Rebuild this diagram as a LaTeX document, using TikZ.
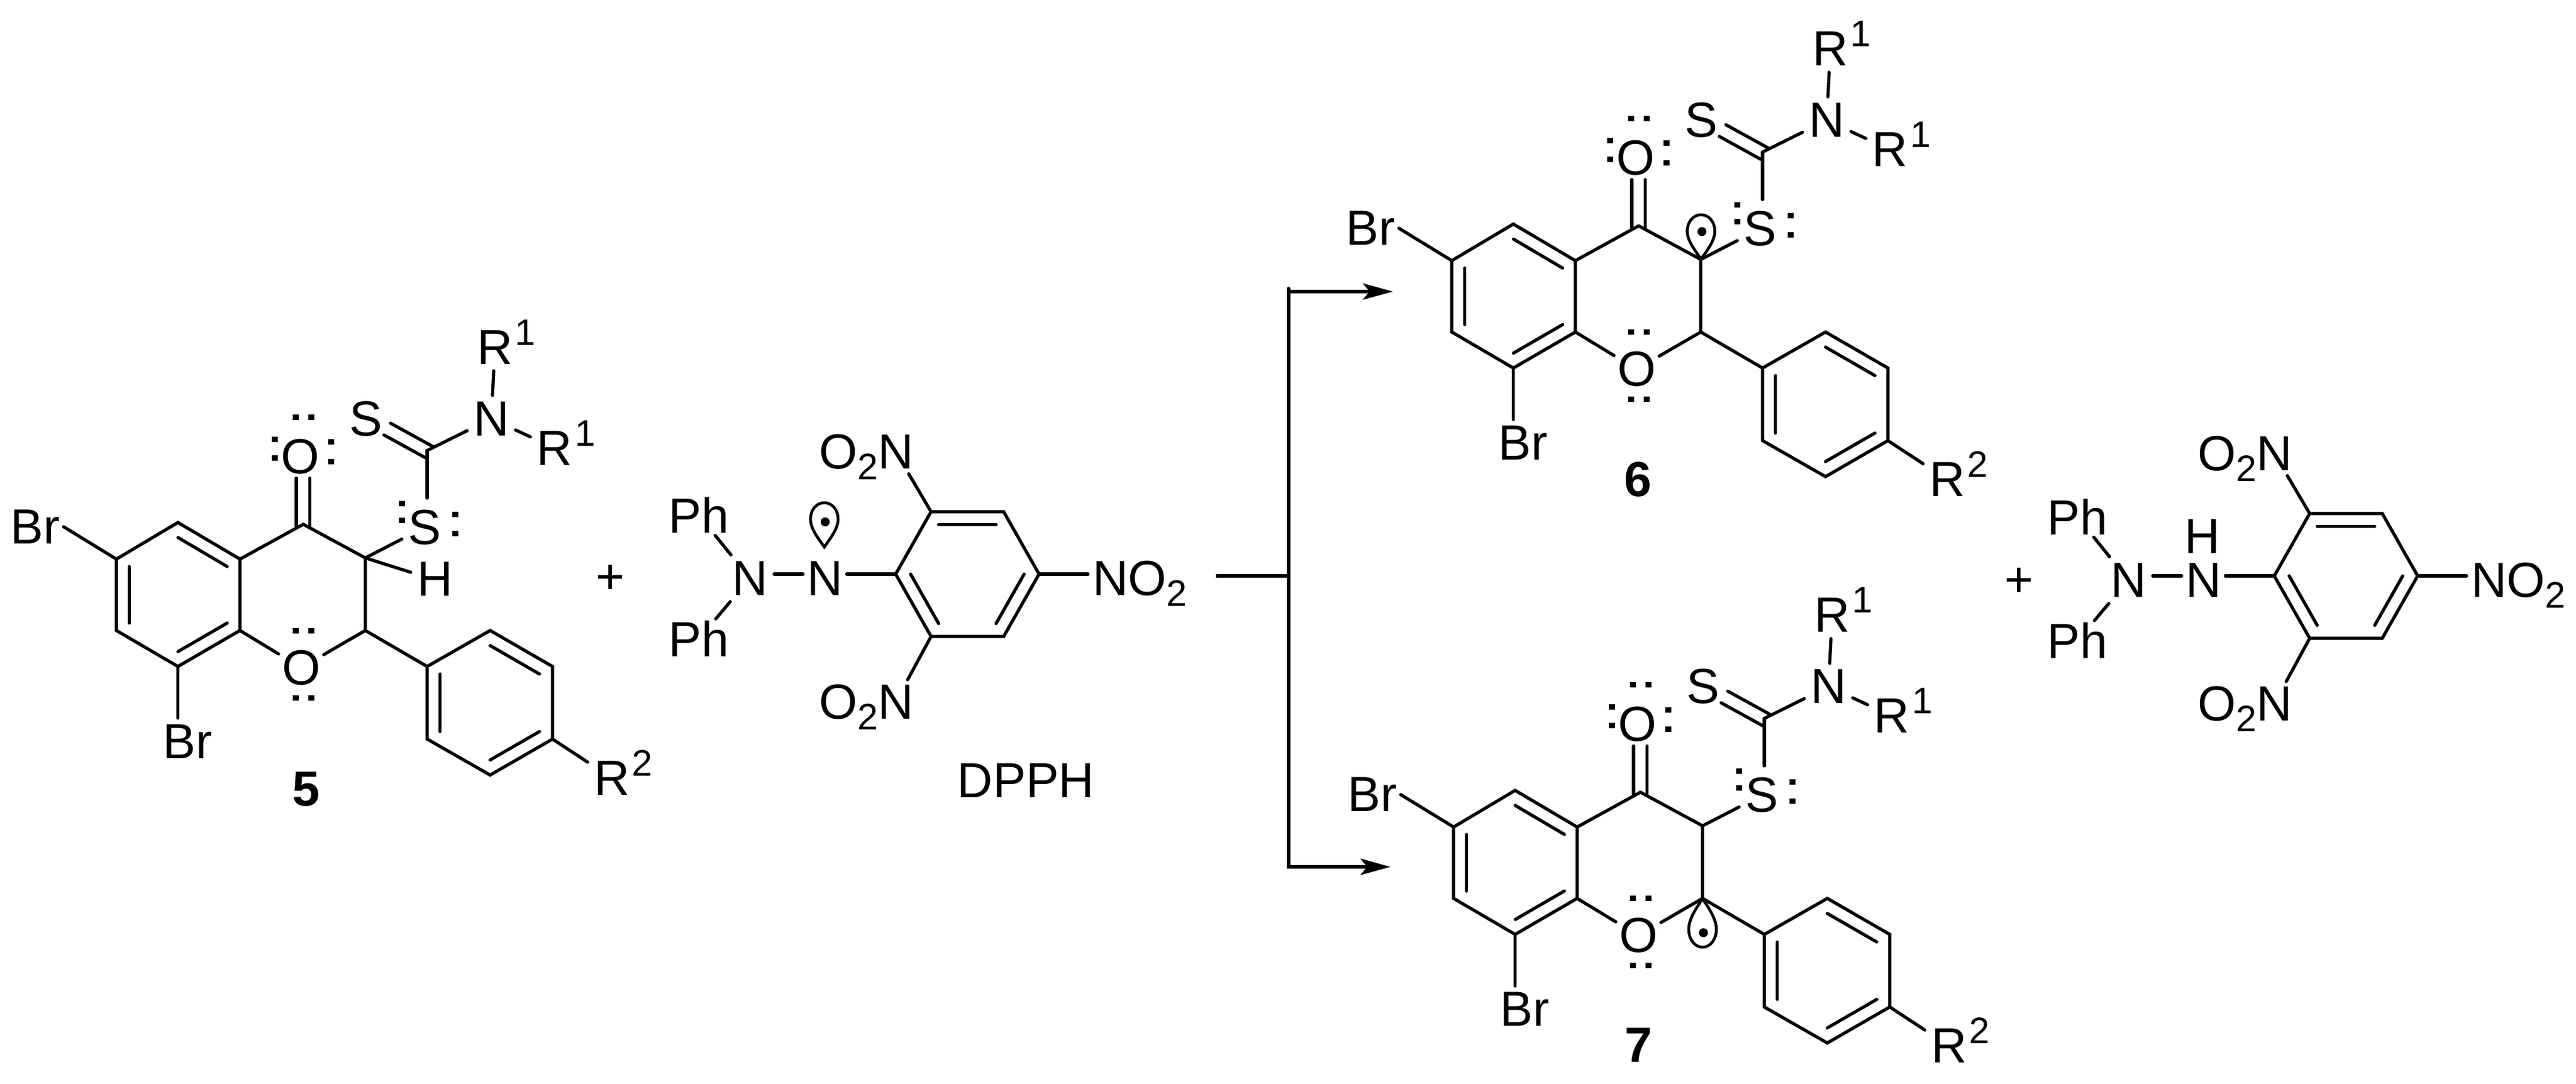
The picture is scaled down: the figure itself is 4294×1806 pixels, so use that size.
\documentclass[tikz,border=0pt]{standalone}
\usepackage{fontspec}
\setmainfont{Liberation Sans}
\usetikzlibrary{arrows.meta,calc}
\newcommand{\supmark}[1]{\rlap{\smash{\hspace*{.04cm}\raisebox{.32cm}{\fontsize{17.5}{18}\selectfont #1}}}}
\newcommand{\submark}[1]{\smash{\raisebox{-.18cm}{\fontsize{17.5}{18}\selectfont #1}}}
\tikzset{
  bond/.style={line width=.053cm,line cap=round,line join=miter},
  atom/.style={inner sep=.10cm,font=\fontsize{23.4}{26}\selectfont},
  ringo/.style={atom,inner sep=.05cm},
  halogen/.style={atom,inner sep=.05cm},
  cpd/.style={inner sep=0pt,font=\fontsize{23.4}{26}\selectfont\bfseries},
  plain/.style={inner sep=0pt,font=\fontsize{23.4}{26}\selectfont},
  lobe/.style={line width=.047cm},
  rxn/.style={line width=.058cm},
  rxnhead/.style={rxn,-{Stealth[length=.5cm,width=.27cm,inset=.11cm]}}
}
% inner line of an aromatic double bond
\newcommand{\innerbond}[3]{\draw[bond] ($(#1)!.208!(#3)$) -- ($(#2)!.208!(#3)$);}
% singly occupied orbital: apex, vertical scale, dot position along the axis
\newcommand{\orbital}[3]{%
\begin{scope}[shift={(#1)},yscale=#2]
  \draw[lobe] (0,0) .. controls (-10,-15) and (-23,-30) .. (-23,-47)
     .. controls (-23,-62) and (-13,-74) .. (0,-74)
     .. controls (13,-74) and (23,-62) .. (23,-47)
     .. controls (23,-30) and (10,-15) .. (0,0) -- cycle;
\end{scope}
\fill ($(#1)+(1.5,{-#3*#2})$) circle (7.5);}
% flavanone skeleton
\newcommand{\flavanone}[3]{%
\begin{scope}[shift={(#2,#3)}]
  \coordinate (#1c4) at (505.5,874);
  \coordinate (#1c4a) at (400,932);
  \coordinate (#1c5) at (296.6,871);
  \coordinate (#1c6) at (194,932);
  \coordinate (#1c7) at (194,1051);
  \coordinate (#1c8) at (296.6,1111);
  \coordinate (#1c8a) at (400,1051);
  \coordinate (#1c2) at (609,1051);
  \coordinate (#1c3) at (609,930);
  \coordinate (#1pa) at (712,1111);
  \coordinate (#1pb) at (817,1051);
  \coordinate (#1pc) at (921,1111);
  \coordinate (#1pd) at (921,1232);
  \coordinate (#1pe) at (817,1292);
  \coordinate (#1pf) at (712,1232);
  \coordinate (#1rc) at (297.5,991.5);
  \coordinate (#1pz) at (816.5,1171.5);
  \coordinate (#1th) at (712,751);
  \coordinate (#1ta) at (721,744);
  \coordinate (#1tb) at (709,763);
  \coordinate (#1sa) at (651,705.5);
  \coordinate (#1sb) at (640,725);
  \coordinate (#1oa) at (494,877);
  \coordinate (#1ob) at (516.5,877);
  \coordinate (#1oc) at (494,797);
  \coordinate (#1od) at (516.5,797);
  \node[halogen] (#1br6) at (59,878) {Br};
  \node[halogen] (#1br8) at (313,1236) {Br};
  \node[ringo] (#1o1) at (502,1113) {O};
  \node[atom] (#1oc4) at (500.5,761) {O};
  \node[atom] (#1s1) at (708,879) {S};
  \node[atom] (#1s2) at (610,698) {S};
  \node[atom] (#1n) at (819,698) {N};
  \node[atom] (#1r1a) at (825,579) {R\supmark{1}};
  \node[atom] (#1r1b) at (924.5,747) {R\supmark{1}};
  \node[atom] (#1r2) at (1020,1297) {R\supmark{2}};
  \draw[bond] (#1c4) -- (#1c4a) -- (#1c5) -- (#1c6) -- (#1c7) -- (#1c8) -- (#1c8a) -- (#1c4a);
  \draw[bond] (#1c4) -- (#1c3) -- (#1c2);
  \draw[bond] (#1c8a) -- (#1o1);
  \draw[bond] (#1c2) -- (#1o1);
  \draw[bond] (#1c2) -- (#1pa) -- (#1pb) -- (#1pc) -- (#1pd) -- (#1pe) -- (#1pf) -- (#1pa);
  \draw[bond] (#1pd) -- (#1r2);
  \innerbond{#1c5}{#1c4a}{#1rc}
  \innerbond{#1c6}{#1c7}{#1rc}
  \innerbond{#1c8}{#1c8a}{#1rc}
  \innerbond{#1pa}{#1pf}{#1pz}
  \innerbond{#1pb}{#1pc}{#1pz}
  \innerbond{#1pd}{#1pe}{#1pz}
  \draw[bond] (#1c6) -- (#1br6.east);
  \draw[bond,shorten >=.05cm] (#1c8) -- (#1c8 |- #1br8.north);
  \draw[bond] (#1oa) -- (#1oc);
  \draw[bond] (#1ob) -- (#1od);
  \draw[bond] (#1c3) -- (#1s1);
  \draw[bond,shorten >=.09cm] (#1th) -- (#1th |- #1s1.north);
  \draw[bond] (#1ta) -- (#1sa);
  \draw[bond] (#1tb) -- (#1sb);
  \draw[bond] (#1th) -- (#1n);
  \draw[bond] (#1n) -- (#1r1a);
  \draw[bond] (#1n) -- (#1r1b);
  \foreach \px/\py in {492.5/695,518.5/695,458/732,458/763,552/736.5,552/769,
      669.5/839,669.5/867,759/857,759/889,
      492.5/1051,518.5/1051,492.5/1163,518.5/1163}{
    \fill[shift={(\px,\py)}] (-5,-4.5) rectangle (5,4.5);
  }
\end{scope}}
% picryl hydrazine skeleton
\newcommand{\hydrazine}[3]{%
\begin{scope}[shift={(#2,#3)}]
  \coordinate (#1a) at (1493,957);
  \coordinate (#1b) at (1552,853);
  \coordinate (#1c) at (1673,853);
  \coordinate (#1d) at (1732,957);
  \coordinate (#1e) at (1673,1061);
  \coordinate (#1f) at (1552,1061);
  \coordinate (#1z) at (1612.5,957);
  \node[atom] (#1na) at (1250,964) {N};
  \node[atom,inner sep=.06cm] (#1nb) at (1375,964) {N};
  \node[atom,inner sep=.03cm] (#1pha) at (1165,859) {Ph};
  \node[atom,inner sep=.03cm] (#1phb) at (1165,1065) {Ph};
  \node[atom,inner sep=.07cm] (#1nta) at (1493,753) {\llap{O\submark{2}}N};
  \node[atom,inner sep=.07cm] (#1ntb) at (1493,1170) {\llap{O\submark{2}}N};
  \node[atom,inner sep=.07cm] (#1ntc) at (1851,964) {N\rlap{O\submark{2}}};
  \draw[bond] (#1a) -- (#1b) -- (#1c) -- (#1d) -- (#1e) -- (#1f) -- (#1a);
  \innerbond{#1b}{#1c}{#1z}
  \innerbond{#1a}{#1f}{#1z}
  \innerbond{#1d}{#1e}{#1z}
  \draw[bond] (#1na.east |- #1a) -- (#1nb.west |- #1a);
  \draw[bond] (#1nb.east |- #1a) -- (#1a);
  \draw[bond] (#1na) -- (#1pha);
  \draw[bond] (#1na) -- (#1phb);
  \draw[bond] (#1b) -- (#1nta);
  \draw[bond] (#1f) -- (#1ntb);
  \draw[bond] (#1d) -- (#1ntc.west |- #1d);
\end{scope}}
\begin{document}
\begin{tikzpicture}[x=.01cm,y=-.01cm]
\useasboundingbox (0,0) rectangle (4294,1806);
\flavanone{u}{0}{0}
\node[atom] (uh) at (725,965) {H};
\draw[bond] (uc3) -- ([yshift=.11cm]uh.west);
\node[cpd] (ulabel) at (510,1316) {5};
\node[plain] (plusa) at (1018,966) {+};
\hydrazine{v}{0}{0}
\coordinate (vlobe) at (1374,912);
\orbital{vlobe}{1}{42}
\node[plain] (dpph) at (1710,1301) {DPPH};
\coordinate (jstart) at (2027,960);
\coordinate (jmid) at (2148,960);
\coordinate (jnub) at (2148,481);
\coordinate (tip6) at (2322,486);
\coordinate (tip7) at (2318,1445);
\draw[rxn] (jstart) -- (jmid);
\draw[rxn,line cap=round] (jmid) -- (jnub);
\draw[rxnhead] (jmid) |- (tip6);
\draw[rxnhead] (jmid) |- (tip7);
\flavanone{w}{2226}{-497.5}
\coordinate (wlobe) at (2835.5,432);
\orbital{wlobe}{1}{46}
\node[cpd] (wlabel) at (2730,799) {6};
\flavanone{y}{2229}{446.6}
\orbital{yc2}{-1.1}{52}
\node[cpd] (ylabel) at (2731,1742) {7};
\node[plain] (plusb) at (3365,971) {+};
\hydrazine{z}{2298}{3}
\node[atom,inner sep=0pt] (zh) at (3671,894) {H};
\end{tikzpicture}
\end{document}
